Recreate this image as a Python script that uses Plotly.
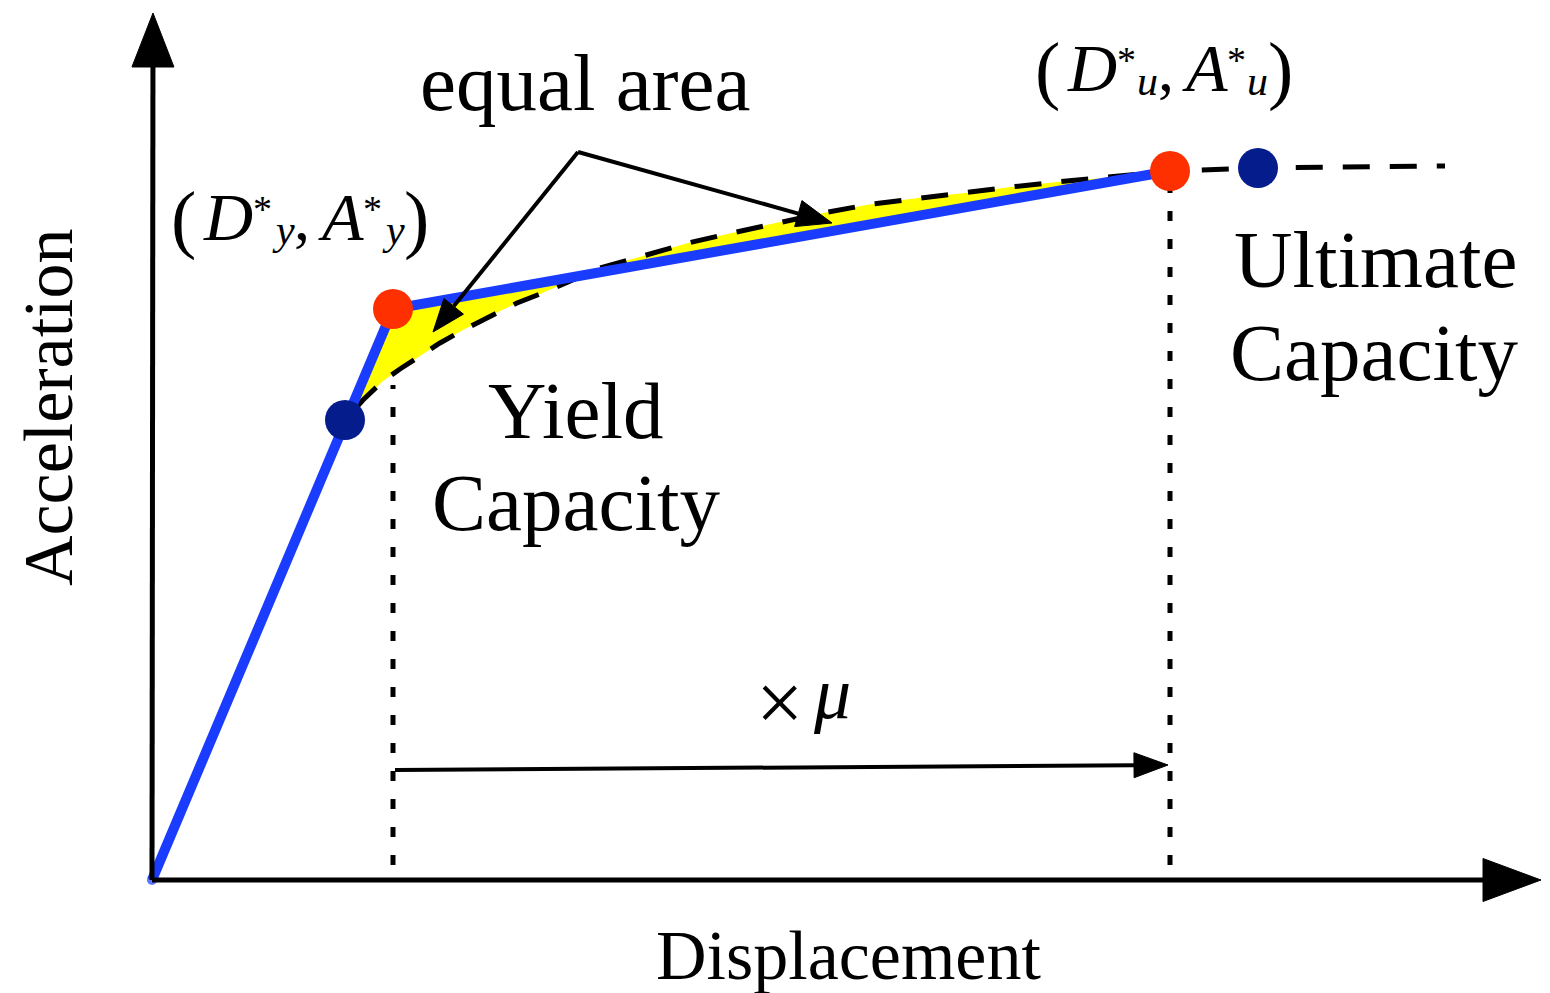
import numpy as np
import plotly.graph_objects as go

# Capacity curve (displacement vs acceleration, arbitrary units)
capacity_disp = [0.00, 1.93, 2.11, 2.31, 2.48, 2.68, 2.88, 3.11, 3.48, 3.65, 3.88,
                 4.18, 4.48, 4.91, 5.36, 5.80, 6.28, 6.76, 7.20, 7.66, 8.13, 8.59,
                 9.05, 9.51, 10.18, 11.06, 12.93]
capacity_acc = [0.00, 4.60, 4.80, 4.99, 5.11, 5.24, 5.37, 5.50, 5.69, 5.77, 5.86,
                5.99, 6.12, 6.24, 6.37, 6.47, 6.58, 6.68, 6.76, 6.82, 6.87, 6.93,
                6.98, 7.02, 7.09, 7.12, 7.14]

# Idealised bilinear curve: origin, yield point (Dy*, Ay*), ultimate point (Du*, Au*)
bilinear_disp = [0.00, 2.41, 10.18]
bilinear_acc = [0.00, 5.71, 7.09]

# Points picked on the capacity curve
picked_disp = [1.93, 11.06]
picked_acc = [4.60, 7.12]

# ductility arrow levels
mu_arrow_acc = [1.10, 1.15]

FONT = "Liberation Serif"
BLUE = "#1a3cff"
RED = "#ff3000"
NAVY = "#041c8c"

W, H = 1550, 993
X0, Y0, S = 152, 880, 100.0   # pixel position of the origin and pixels per unit


def dx(px):
    return (px - X0) / S


def dy(py):
    return (Y0 - py) / S


fig = go.Figure()

# --- equal-area region between the bilinear and the capacity curve ---
cd = np.array(capacity_disp)
ca = np.array(capacity_acc)
d_lo, d_hi = picked_disp[0], bilinear_disp[2]
bil_lo = np.interp(d_lo, bilinear_disp, bilinear_acc)
poly_x = [d_lo, bilinear_disp[1], bilinear_disp[2]]
poly_y = [bil_lo, bilinear_acc[1], bilinear_acc[2]]
mask = (cd >= d_lo) & (cd <= d_hi)
poly_x += list(cd[mask][::-1])
poly_y += list(ca[mask][::-1])
fig.add_trace(go.Scatter(x=poly_x, y=poly_y, fill="toself", fillcolor="#ffff00",
                         line=dict(width=0), mode="lines", hoverinfo="skip"))

# --- capacity curve (dashed) ---
fig.add_trace(go.Scatter(x=capacity_disp, y=capacity_acc, mode="lines",
                         line=dict(color="black", width=5, dash="27px,20px")))

# --- bilinear curve ---
fig.add_trace(go.Scatter(x=bilinear_disp, y=bilinear_acc, mode="lines+markers",
                         line=dict(color=BLUE, width=10),
                         marker=dict(size=[10, 0, 0], color=BLUE, line=dict(width=0))))

# --- dotted verticals at yield and ultimate displacement ---
for i in (1, 2):
    top = np.interp(bilinear_disp[i], capacity_disp, capacity_acc) - 0.11
    fig.add_trace(go.Scatter(x=[bilinear_disp[i], bilinear_disp[i]], y=[0.15, top],
                             mode="lines",
                             line=dict(color="black", width=5, dash="10px,18px")))


def arrow(x0, y0, x1, y1, lw, head_len, head_w):
    """Straight arrow from (x0,y0) to tip (x1,y1); sizes in pixels."""
    v = np.array([x1 - x0, y1 - y0])
    u = v / np.hypot(*v)
    n = np.array([-u[1], u[0]])
    tip = np.array([x1, y1])
    base = tip - u * head_len / S
    fig.add_trace(go.Scatter(x=[x0, base[0]], y=[y0, base[1]], mode="lines",
                             line=dict(color="black", width=lw)))
    a = base + n * head_w / 2 / S
    b = base - n * head_w / 2 / S
    fig.add_trace(go.Scatter(x=[tip[0], a[0], b[0], tip[0]], y=[tip[1], a[1], b[1], tip[1]],
                             mode="lines", fill="toself", fillcolor="black",
                             line=dict(color="black", width=1)))


# axes with arrowheads
arrow(0, 0, 0.01, dy(13), 5, 54, 42)
arrow(0, 0, dx(1541), 0.0, 5, 58, 43)

# ductility arrow
arrow(bilinear_disp[1] + 0.02, mu_arrow_acc[0], bilinear_disp[2] - 0.02, mu_arrow_acc[1], 4, 34, 25)

# "equal area" pointers
vx, vy = dx(578), dy(152)
arrow(vx, vy, dx(433), dy(332), 4, 33, 25)
arrow(vx, vy, dx(832), dy(223), 4, 35, 27)

# --- points ---
fig.add_trace(go.Scatter(x=bilinear_disp[1:], y=bilinear_acc[1:], mode="markers",
                         marker=dict(size=40, color=RED, line=dict(width=0))))
fig.add_trace(go.Scatter(x=picked_disp, y=picked_acc, mode="markers",
                         marker=dict(size=40, color=NAVY, line=dict(width=0))))

# --- text ---
ann = []


def text(t, cx, baseline, size, italic=False, angle=0, cy=None):
    if cy is None:
        cy = baseline - 0.3375 * size
    if italic:
        t = "<i>%s</i>" % t
    ann.append(dict(text=t, x=dx(cx), y=dy(cy), xref="x", yref="y",
                    showarrow=False, xanchor="center", yanchor="middle",
                    borderpad=0, textangle=angle,
                    font=dict(family=FONT, size=size, color="black")))


text("equal area", 585, 110, 81)
text("Yield", 576, 438, 81)
text("Capacity", 576, 530, 81)
text("Ultimate", 1375, 287, 81)
text("Capacity", 1374, 380, 81)
text("Displacement", 848, 979, 70)
text("Acceleration", 48, 0, 70, angle=-90, cy=407)
text("×", 779, 0, 84, cy=702)
text("μ", 832, 718, 74, italic=True)


def point_label(px0, base, sub):
    # "(D*_sub, A*_sub)" assembled glyph by glyph
    offs = [0, 44.5, 79.5, 100.5, 118.5, 158, 189.5, 210.5, 233]
    text("(", px0 + offs[0], base + 4, 76)
    text("D", px0 + offs[1], base, 68, italic=True)
    text("*", px0 + offs[2], base - 18, 38)
    text(sub, px0 + offs[3], base + 4, 42, italic=True)
    text(",", px0 + offs[4], base, 64)
    text("A", px0 + offs[5], base, 68, italic=True)
    text("*", px0 + offs[6], base - 18, 38)
    text(sub, px0 + offs[7], base + 4, 42, italic=True)
    text(")", px0 + offs[8], base + 4, 76)


point_label(183, 240, "y")
point_label(1047, 91, "u")

fig.update_layout(
    width=W, height=H, margin=dict(l=0, r=0, t=0, b=0),
    paper_bgcolor="white", plot_bgcolor="white", showlegend=False,
    annotations=ann,
    xaxis=dict(range=[dx(0), dx(W)], visible=False, fixedrange=True),
    yaxis=dict(range=[dy(H), dy(0)], visible=False, fixedrange=True),
)

fig.write_html("out.html")
